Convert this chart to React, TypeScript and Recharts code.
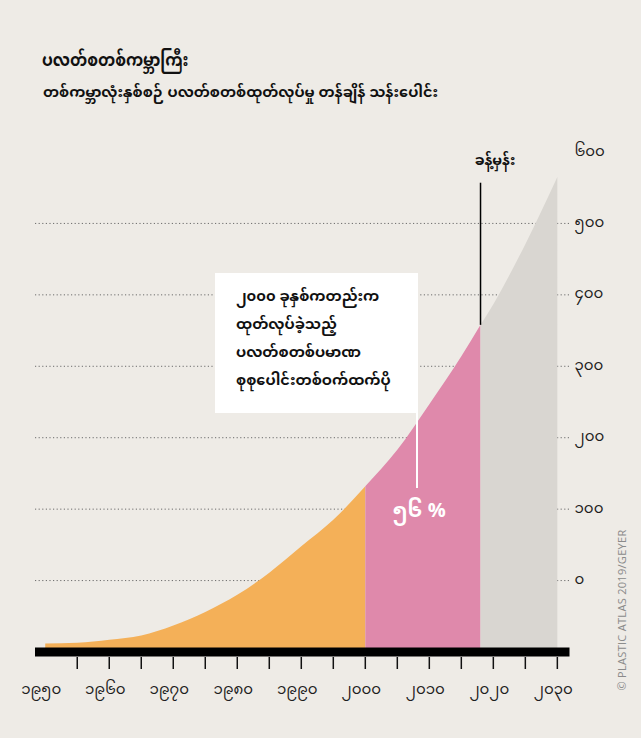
import React from 'react';
import { AreaChart, Area, XAxis, YAxis, CartesianGrid, ReferenceLine } from 'recharts';

// cumulative production, read in gridline units above the axis bar
const years = [1950, 1955, 1960, 1965, 1970, 1975, 1980, 1985, 1990, 1995, 2000, 2005, 2010, 2015, 2018, 2020, 2025, 2030];
const cumulative = [12, 13, 17, 23, 37, 56, 80, 111, 148, 185, 232, 283, 347, 414, 458, 487, 571, 665];

const halfFrom = 2000;
const estimateFrom = 2018;

const xTicks = [1950, 1955, 1960, 1965, 1970, 1975, 1980, 1985, 1990, 1995, 2000, 2005, 2010, 2015, 2020, 2025, 2030];
const yTicks = [100, 200, 300, 400, 500, 600, 700];
const yTickLabels = ['၀', '၁၀၀', '၂၀၀', '၃၀၀', '၄၀၀', '၅၀၀', '၆၀၀'];

const title = 'ပလတ်စတစ်ကမ္ဘာကြီး';
const subtitle = 'တစ်ကမ္ဘာလုံးနှစ်စဉ် ပလတ်စတစ်ထုတ်လုပ်မှု တန်ချိန် သန်းပေါင်း';
const noteLines = ['၂၀၀၀ ခုနှစ်ကတည်းက', 'ထုတ်လုပ်ခဲ့သည့်', 'ပလတ်စတစ်ပမာဏ', 'စုစုပေါင်းတစ်ဝက်ထက်ပို'];
const shareLabel = '၅၆ %';
const estimateLabel = 'ခန့်မှန်း';
const source = '© PLASTIC ATLAS 2019/GEYER';

const BG = '#eeebe6';
const ORANGE = '#f4b058';
const PINK = '#df89ab';
const GREY = '#d9d6d1';
const FONT = "'Noto Sans Myanmar', 'Padauk', 'Myanmar Text', 'Noto Sans', sans-serif";

const toMyanmar = (n: number) => String(n).replace(/\d/g, (d) => String.fromCharCode(0x1040 + Number(d)));

const rows = years.map((year, i) => ({
  year,
  before: year <= halfFrom ? cumulative[i] : null,
  since: year >= halfFrom && year <= estimateFrom ? cumulative[i] : null,
  estimate: year >= estimateFrom ? cumulative[i] : null,
}));

const XTick = (props: any) => {
  const { x, y, payload } = props;
  const year = payload.value as number;
  return (
    <g>
      {year !== 1950 && <line x1={x} x2={x} y1={y + 5} y2={y + 17} stroke="#111" strokeWidth={1.5} />}
      {year % 10 === 0 && (
        <text x={x - 4} y={y + 38} textAnchor="middle" dominantBaseline="central" fontSize={15} fill="#1e1e1e" fontFamily={FONT}>
          {toMyanmar(year)}
        </text>
      )}
    </g>
  );
};

const YTick = (props: any) => {
  const { x, y, payload } = props;
  const idx = yTicks.indexOf(payload.value);
  return (
    <text x={x + 5} y={y} textAnchor="start" dominantBaseline="central" fontSize={15} fill="#1e1e1e" fontFamily={FONT}>
      {yTickLabels[idx]}
    </text>
  );
};

// dotted gridline for every y tick except the top one
const GridLine = (props: any) => {
  const { x1, x2, y1, y2, y } = props;
  if (Math.abs(y1 - y) < 1) return null;
  return <line x1={x1} x2={x2} y1={y1} y2={y2} stroke="#6b6b6b" strokeWidth={1} strokeDasharray="1.2 2.4" />;
};

export default function App() {
  return (
    <div style={{ position: 'absolute', left: 0, top: 0, width: 641, height: 738, background: BG, fontFamily: FONT, overflow: 'hidden' }}>
      <div
        style={{
          position: 'absolute',
          left: 42,
          top: 42,
          fontSize: 18,
          fontWeight: 700,
          color: '#111',
          whiteSpace: 'nowrap',
          transform: 'scaleX(0.86)',
          transformOrigin: 'left center',
        }}
      >
        {title}
      </div>
      <div style={{ position: 'absolute', left: 43, top: 78, fontSize: 14.5, fontWeight: 700, color: '#111', whiteSpace: 'nowrap' }}>{subtitle}</div>

      <AreaChart width={641} height={738} data={rows} margin={{ top: 152, right: 11.5, bottom: 46, left: 35 }}>
        <CartesianGrid vertical={false} horizontal={GridLine} />
        <XAxis
          dataKey="year"
          type="number"
          domain={[1948.4, 2031.9]}
          ticks={xTicks}
          interval={0}
          height={40}
          axisLine={{ stroke: '#000', strokeWidth: 9 }}
          tickLine={false}
          tickSize={0}
          tickMargin={0}
          tick={XTick}
        />
        <YAxis
          orientation="right"
          type="number"
          domain={[0, 700]}
          ticks={yTicks}
          interval={0}
          width={60}
          axisLine={false}
          tickLine={false}
          tickSize={0}
          tickMargin={0}
          tick={YTick}
        />
        <Area dataKey="before" type="monotone" stroke="none" fill={ORANGE} fillOpacity={1} isAnimationActive={false} />
        <Area dataKey="since" type="monotone" stroke="none" fill={PINK} fillOpacity={1} isAnimationActive={false} />
        <Area dataKey="estimate" type="monotone" stroke="none" fill={GREY} fillOpacity={1} isAnimationActive={false} />
        <ReferenceLine
          segment={[
            { x: estimateFrom, y: cumulative[years.indexOf(estimateFrom)] },
            { x: estimateFrom, y: 657 },
          ]}
          stroke="#000"
          strokeWidth={1.5}
        />
      </AreaChart>

      <div style={{ position: 'absolute', left: 473, top: 146, width: 44, textAlign: 'center', fontSize: 14, fontWeight: 700, color: '#111', whiteSpace: 'nowrap' }}>
        {estimateLabel}
      </div>

      {/* callout box with its white leader into the pink band */}
      <div style={{ position: 'absolute', left: 215, top: 273, width: 203, height: 140, background: '#fff' }}>
        <div
          style={{
            position: 'absolute',
            left: 21,
            top: 11,
            fontSize: 14,
            fontWeight: 700,
            color: '#111',
            whiteSpace: 'nowrap',
            lineHeight: '28px',
            transform: 'scaleX(1.04)',
            transformOrigin: 'left top',
          }}
        >
          {noteLines.map((line, i) => (
            <React.Fragment key={i}>
              {i > 0 && <br />}
              {line}
            </React.Fragment>
          ))}
        </div>
      </div>
      <div style={{ position: 'absolute', left: 415.5, top: 412, width: 2, height: 76, background: '#fff' }} />
      <div style={{ position: 'absolute', left: 379, top: 491, width: 80, textAlign: 'center', fontSize: 20, fontWeight: 700, color: '#fff', whiteSpace: 'nowrap' }}>
        {shareLabel}
      </div>

      <div
        style={{
          position: 'absolute',
          left: 621,
          top: 610,
          transform: 'translate(-50%, -50%) rotate(-90deg)',
          fontSize: 11,
          color: '#8a8a8a',
          letterSpacing: 0.3,
          whiteSpace: 'nowrap',
          fontFamily: "'Open Sans', sans-serif",
        }}
      >
        {source}
      </div>
    </div>
  );
}
